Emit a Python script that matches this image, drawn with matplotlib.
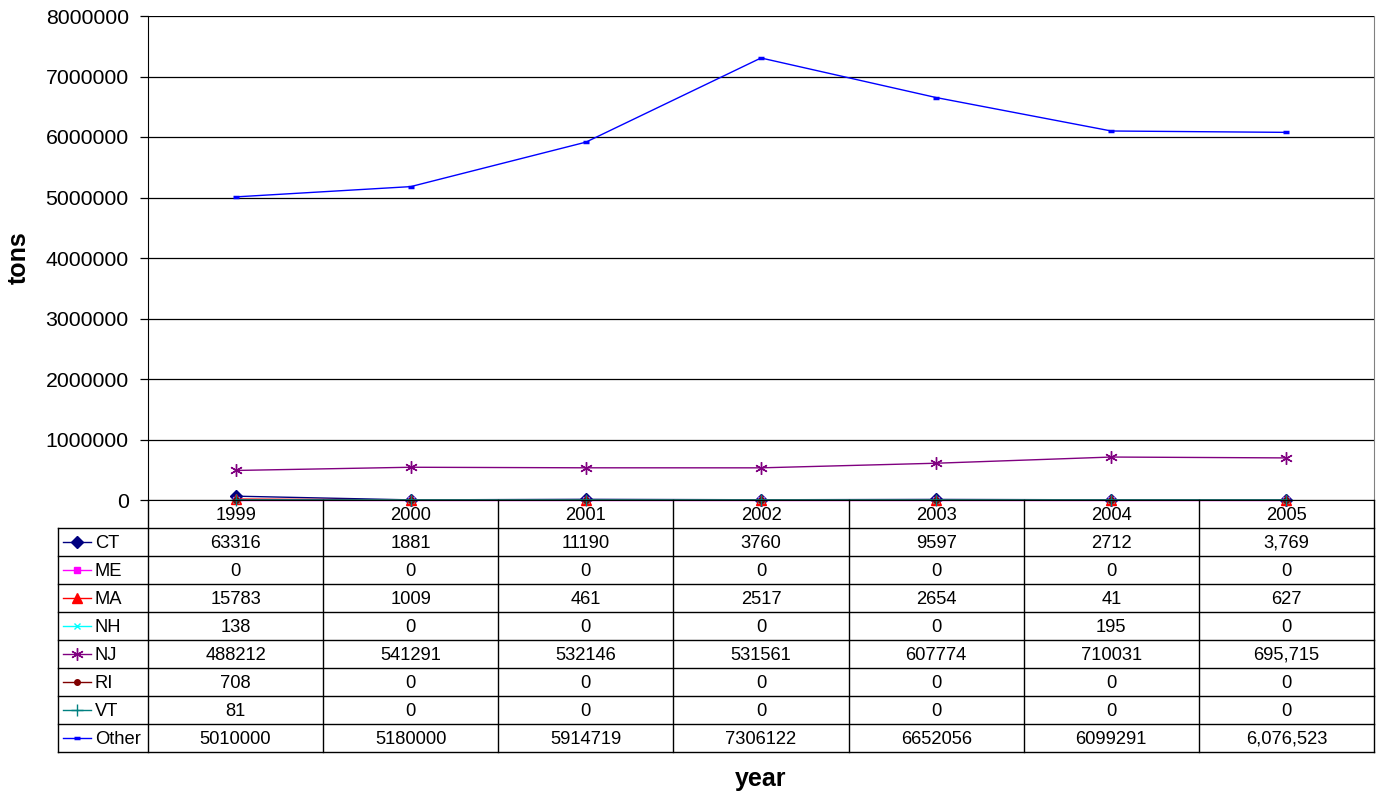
import matplotlib
matplotlib.use("Agg")
import matplotlib.pyplot as plt
from matplotlib.lines import Line2D

plt.rcParams['font.family'] = ['Liberation Sans', 'DejaVu Sans']

years = ["1999", "2000", "2001", "2002", "2003", "2004", "2005"]
ct = [63316, 1881, 11190, 3760, 9597, 2712, 3769]
me = [0, 0, 0, 0, 0, 0, 0]
ma = [15783, 1009, 461, 2517, 2654, 41, 627]
nh = [138, 0, 0, 0, 0, 195, 0]
nj = [488212, 541291, 532146, 531561, 607774, 710031, 695715]
ri = [708, 0, 0, 0, 0, 0, 0]
vt = [81, 0, 0, 0, 0, 0, 0]
other = [5010000, 5180000, 5914719, 7306122, 6652056, 6099291, 6076523]

series_names = ["CT", "ME", "MA", "NH", "NJ", "RI", "VT", "Other"]
table_text = [
    ["63316", "1881", "11190", "3760", "9597", "2712", "3,769"],
    ["0", "0", "0", "0", "0", "0", "0"],
    ["15783", "1009", "461", "2517", "2654", "41", "627"],
    ["138", "0", "0", "0", "0", "195", "0"],
    ["488212", "541291", "532146", "531561", "607774", "710031", "695,715"],
    ["708", "0", "0", "0", "0", "0", "0"],
    ["81", "0", "0", "0", "0", "0", "0"],
    ["5010000", "5180000", "5914719", "7306122", "6652056", "6099291", "6,076,523"],
]
y_ticks = [0, 1000000, 2000000, 3000000, 4000000, 5000000, 6000000, 7000000, 8000000]

styles = [
    dict(color="#000080", marker="D", ms=6, mew=1.0),
    dict(color="#FF00FF", marker="s", ms=5, mew=1.0),
    dict(color="#FF0000", marker="^", ms=7, mew=1.0),
    dict(color="#00FFFF", marker="x", ms=5, mew=1.0),
    dict(color="#800080", marker=(6, 2, 0), ms=9, mew=1.0),
    dict(color="#800000", marker="o", ms=4, mew=1.0),
    dict(color="#008080", marker="+", ms=8, mew=1.0),
    dict(color="#0000FF", marker="_", ms=5, mew=2.5),
]
data = [ct, me, ma, nh, nj, ri, vt, other]

W, H = 1381, 797
fig = plt.figure(figsize=(W / 100, H / 100), dpi=100)

L, R, T, B = 148, 1374, 16, 500
ax = fig.add_axes([L / W, 1 - B / H, (R - L) / W, (B - T) / H])
x = list(range(len(years)))
for vals, st in zip(data, styles):
    ax.plot(x, vals, color=st["color"], lw=1.0, marker=st["marker"],
            ms=st["ms"], mfc=st["color"], mec=st["color"], mew=st["mew"], clip_on=False)

ax.set_xlim(-0.5, len(years) - 0.5)
ax.set_ylim(0, 8000000)
ax.set_yticks(y_ticks)
ax.set_yticklabels([str(v) for v in y_ticks], fontsize=15.3)
ax.set_xticks([])
ax.grid(axis="y", color="#000000", lw=0.9)
ax.set_axisbelow(True)
ax.tick_params(axis="y", length=6, width=0.9, color="black", pad=7.9)
ax.spines["top"].set_visible(False)
ax.spines["right"].set_color("#808080")
ax.spines["left"].set_color("black")
ax.spines["bottom"].set_color("black")
ax.set_ylabel("tons", fontsize=18, fontweight="bold")
ax.yaxis.set_label_coords(-(L - 19) / (R - L), 0.5)
ax.yaxis.label.set_va("center")

# Data table drawn in figure pixel coordinates
def fx(px):
    return px / W

def fy(py):
    return 1 - py / H

row_h = 28
col_w = (R - L) / len(years)
leg_left = 58
head_top, head_bot = B, B + row_h
table_bot = head_bot + row_h * len(series_names)

lc = "black"
lw = 1.0
for i in range(len(years) + 1):
    xx = L + i * col_w
    fig.add_artist(Line2D([fx(xx), fx(xx)], [fy(head_top), fy(table_bot)], color=lc, lw=lw))
for j in range(len(series_names) + 1):
    yy = head_bot + j * row_h
    fig.add_artist(Line2D([fx(leg_left), fx(R)], [fy(yy), fy(yy)], color=lc, lw=lw))
fig.add_artist(Line2D([fx(leg_left), fx(leg_left)], [fy(head_bot), fy(table_bot)], color=lc, lw=lw))

for i, yr in enumerate(years):
    fig.text(fx(L + (i + 0.5) * col_w), fy(head_top + row_h / 2 + 1), yr,
             ha="center", va="center", fontsize=13.2)

for j, name in enumerate(series_names):
    yc = head_bot + (j + 0.5) * row_h + 1
    st = styles[j]
    fig.add_artist(Line2D([fx(leg_left + 5), fx(leg_left + 33)], [fy(yc - 1), fy(yc - 1)],
                          color=st["color"], lw=1.0))
    fig.add_artist(Line2D([fx(leg_left + 19)], [fy(yc - 1)], color=st["color"],
                          marker=st["marker"], ms=st["ms"], mfc=st["color"],
                          mec=st["color"], mew=st["mew"], lw=0))
    fig.text(fx(leg_left + 37), fy(yc), name, ha="left", va="center", fontsize=13.2)
    for i, txt in enumerate(table_text[j]):
        fig.text(fx(L + (i + 0.5) * col_w), fy(yc), txt, ha="center", va="center", fontsize=13.2)

fig.text(fx(761), fy(779), "year", ha="center", va="center", fontsize=18, fontweight="bold")

fig.savefig("out.png", dpi=100, facecolor="white")
